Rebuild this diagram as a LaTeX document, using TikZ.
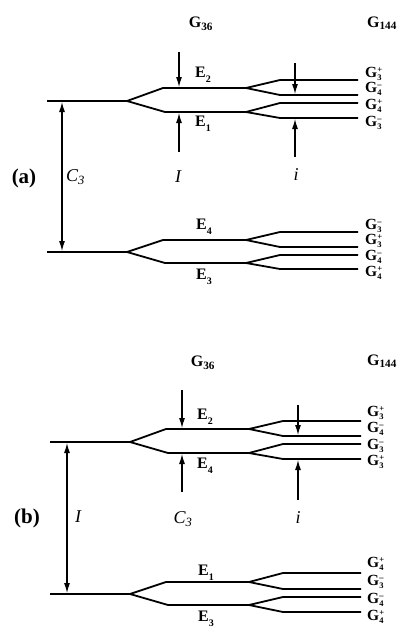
\documentclass[tikz,border=0pt]{standalone}
\usepackage{fontspec}
\setmainfont{Liberation Serif}
\usetikzlibrary{arrows.meta}
\newcommand{\grp}[2]{\textbf{G}\rlap{\raisebox{0.3em}{\fontsize{8.5}{8.5}\selectfont\bfseries #2}}\raisebox{-0.22em}{\fontsize{8.5}{8.5}\selectfont\bfseries #1}}
\newcommand{\elev}[1]{\textbf{E}\raisebox{-0.3em}{\fontsize{10}{10}\selectfont\bfseries #1}}
\begin{document}
\begin{tikzpicture}[x=1pt, y=-1pt,
  level/.style={line width=1.8pt},
  arr/.style={line width=1.1pt, -{Latex[length=10pt,width=6pt]}},
  dbl/.style={line width=1.1pt, {Latex[length=10pt,width=6pt]}-{Latex[length=10pt,width=6pt]}},
  glab/.style={font=\fontsize{15.5}{15.5}\selectfont, anchor=west, inner sep=0pt},
  elab/.style={font=\fontsize{16}{16}\selectfont, inner sep=0pt},
  sym/.style={font=\fontsize{18}{18}\selectfont\itshape, inner sep=0pt},
  panel/.style={font=\fontsize{21}{21}\selectfont\bfseries, inner sep=0pt}]
  \useasboundingbox (0,0) rectangle (404,629);

  % (a)
  \node[elab] (Ga36) at (201,24) {\textbf{G\textsubscript{36}}};
  \node[elab] (Ga144) at (382,23) {\textbf{G\textsubscript{144}}};
  \draw[level] (47,101) -- (127,101) -- (163,88) -- (246,88) -- (280,80) -- (358,80);
  \draw[level] (246,88) -- (280,95) -- (358,95);
  \draw[level] (127,101) -- (165,112) -- (246,112) -- (280,103) -- (358,103);
  \draw[level] (246,112) -- (280,118) -- (358,118);
  \draw[level] (47,252) -- (127,252) -- (163,240) -- (246,240) -- (280,232) -- (358,232);
  \draw[level] (246,240) -- (280,247) -- (358,247);
  \draw[level] (127,252) -- (165,263) -- (246,263) -- (280,255) -- (358,255);
  \draw[level] (246,263) -- (280,269) -- (358,269);
  \node[elab] (Ea2) at (203,75) {\elev{2}};
  \node[elab] (Ea1) at (203,124) {\elev{1}};
  \node[elab] (Ea4) at (204,227) {\elev{4}};
  \node[elab] (Ea3) at (204,277) {\elev{3}};
  \node[glab] (ga1) at (365,74) {\grp{3}{+}};
  \node[glab] (ga2) at (365,89) {\grp{4}{–}};
  \node[glab] (ga3) at (365,106) {\grp{4}{+}};
  \node[glab] (ga4) at (365,123) {\grp{3}{–}};
  \node[glab] (ga5) at (365,226) {\grp{3}{–}};
  \node[glab] (ga6) at (365,241) {\grp{3}{+}};
  \node[glab] (ga7) at (365,257) {\grp{4}{–}};
  \node[glab] (ga8) at (365,273) {\grp{4}{+}};
  \coordinate (Ca1) at (62,102);
  \coordinate (Ca2) at (62,251);
  \coordinate (Ia1) at (179,52);
  \coordinate (Ia2) at (179,87);
  \coordinate (Ia3) at (179,152);
  \coordinate (Ia4) at (179,113);
  \coordinate (ia1) at (295,63);
  \coordinate (ia2) at (295,94);
  \coordinate (ia3) at (295,157);
  \coordinate (ia4) at (295,119);
  \draw[dbl] (Ca1) -- (Ca2);
  \draw[arr] (Ia1) -- (Ia2);
  \draw[arr] (Ia3) -- (Ia4);
  \draw[arr] (ia1) -- (ia2);
  \draw[arr] (ia3) -- (ia4);
  \node[panel] (pa) at (24,178) {(a)};
  \node[sym, anchor=west] (Ca) at (66,177) {C\textsubscript{3}};
  \node[sym] (Ia) at (178,177) {I};
  \node[sym] (ia) at (296,175) {i};

  % (b)
  \node[elab] (Gb36) at (203,363) {\textbf{G\textsubscript{36}}};
  \node[elab] (Gb144) at (382,361) {\textbf{G\textsubscript{144}}};
  \draw[level] (50,442) -- (130,442) -- (166,429) -- (249,429) -- (283,421) -- (361,421);
  \draw[level] (249,429) -- (283,436) -- (361,436);
  \draw[level] (130,442) -- (168,453) -- (249,453) -- (283,444) -- (361,444);
  \draw[level] (249,453) -- (283,459) -- (361,459);
  \draw[level] (50,594) -- (130,594) -- (166,582) -- (249,582) -- (283,573) -- (361,573);
  \draw[level] (249,582) -- (283,589) -- (361,589);
  \draw[level] (130,594) -- (168,605) -- (249,605) -- (283,597) -- (361,597);
  \draw[level] (249,605) -- (283,612) -- (361,612);
  \node[elab] (Eb2) at (205,417) {\elev{2}};
  \node[elab] (Eb4) at (205,466) {\elev{4}};
  \node[elab] (Eb1) at (206,573) {\elev{1}};
  \node[elab] (Eb3) at (206,619) {\elev{3}};
  \node[glab] (gb1) at (367,413) {\grp{3}{+}};
  \node[glab] (gb2) at (367,429) {\grp{4}{–}};
  \node[glab] (gb3) at (367,446) {\grp{3}{–}};
  \node[glab] (gb4) at (367,462) {\grp{3}{+}};
  \node[glab] (gb5) at (367,564) {\grp{4}{+}};
  \node[glab] (gb6) at (367,582) {\grp{3}{–}};
  \node[glab] (gb7) at (367,600) {\grp{4}{–}};
  \node[glab] (gb8) at (367,617) {\grp{4}{+}};
  \coordinate (Ib1) at (67,443);
  \coordinate (Ib2) at (67,593);
  \coordinate (Cb1) at (182,390);
  \coordinate (Cb2) at (182,428);
  \coordinate (Cb3) at (182,492);
  \coordinate (Cb4) at (182,454);
  \coordinate (ib1) at (298,405);
  \coordinate (ib2) at (298,435);
  \coordinate (ib3) at (298,500);
  \coordinate (ib4) at (298,460);
  \draw[dbl] (Ib1) -- (Ib2);
  \draw[arr] (Cb1) -- (Cb2);
  \draw[arr] (Cb3) -- (Cb4);
  \draw[arr] (ib1) -- (ib2);
  \draw[arr] (ib3) -- (ib4);
  \node[panel] (pb) at (27,518) {(b)};
  \node[sym] (Ib) at (78,517) {I};
  \node[sym] (Cb) at (183,519) {C\textsubscript{3}};
  \node[sym] (ib) at (298,518) {i};
\end{tikzpicture}
\end{document}
